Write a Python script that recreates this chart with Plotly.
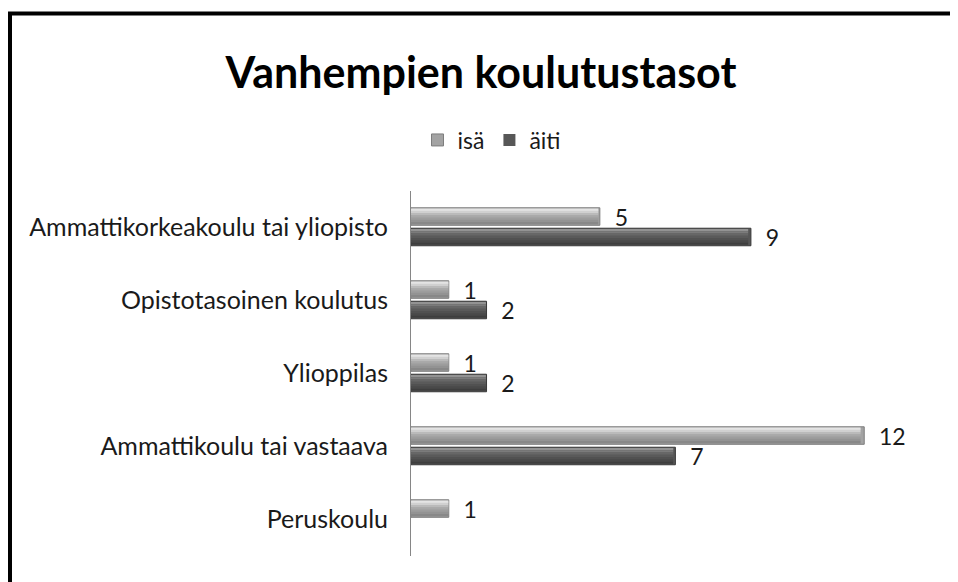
import plotly.graph_objects as go

categories = ["Peruskoulu", "Ammattikoulu tai vastaava", "Ylioppilas",
              "Opistotasoinen koulutus", "Ammattikorkeakoulu tai yliopisto"]
isa = [1, 12, 1, 1, 5]
aiti = [0, 7, 2, 2, 9]
series_names = ["isä", "äiti"]

OFF = 8                      # default page body margin
W, H = 958 - OFF, 582 - OFF  # figure size
# plot area in page pixels
PX0, PX1, PY0, PY1 = 411, 902, 191, 556
ML, MR = PX0 - OFF, (W + OFF) - PX1
MT, MB = PY0 - OFF, (H + OFF) - PY1
PW, PH = PX1 - PX0, PY1 - PY0


def px_x(x):
    return (x - PX0) / PW


def px_y(y):
    return (PY1 - y) / PH


FONT = "Lato"
TXT = "#1a1a1a"

styles = {
    "isä": dict(base="#a3a3a3", edge="#7d7d7d",
                bands=["#e4e4e4", "#d0d0d0", "#bababa", "#a8a8a8",
                       "#9d9d9d", "#939393", "#888888"],
                offset=0.03, values=isa, rank=1),
    "äiti": dict(base="#575757", edge="#383838",
                 bands=["#939393", "#7b7b7b", "#676767", "#5a5a5a",
                        "#515151", "#494949", "#3e3e3e"],
                 offset=-0.25, values=aiti, rank=2),
}
BW = 0.24

fig = go.Figure()
for name in series_names:
    s = styles[name]
    vals = s["values"]
    fig.add_trace(go.Bar(
        y=categories, x=vals, orientation="h", name=name,
        width=BW, offset=s["offset"],
        marker=dict(color=s["base"],
                    line=dict(color=s["edge"],
                              width=[1 if v else 0 for v in vals])),
        text=[("  " + str(v)) if v else "" for v in vals],
        textposition="outside", cliponaxis=False, constraintext="none",
        textfont=dict(family=FONT, size=23, color=TXT),
        legendrank=s["rank"],
    ))
    n = len(s["bands"])
    inner = BW * 0.9
    bh = inner / n
    start = s["offset"] + BW * 0.05
    for i, col in enumerate(s["bands"]):
        # bands listed top -> bottom; y increases upward
        off = start + inner - (i + 1) * bh
        fig.add_trace(go.Bar(
            y=categories, x=[v * 0.992 for v in vals], orientation="h",
            showlegend=False, hoverinfo="skip",
            width=bh * 1.05, offset=off,
            marker=dict(color=col, line=dict(width=0)),
        ))

border_path = (f"M {px_x(10)} {px_y(H + OFF + 5)} L {px_x(10)} {px_y(13.5)} "
               f"L {px_x(W + OFF + 5)} {px_y(13.5)}")

fig.update_layout(
    width=W, height=H,
    margin=dict(l=ML, r=MR, t=MT, b=MB),
    paper_bgcolor="white", plot_bgcolor="white",
    barmode="overlay",
    title=dict(text="<b>Vanhempien koulutustasot</b>",
               x=(481 - OFF) / W, xref="container", xanchor="center",
               y=1 - (73 - OFF) / H, yref="container", yanchor="middle",
               font=dict(family=FONT, size=43, color="#000000")),
    legend=dict(orientation="h", x=px_x(492), xanchor="center",
                y=px_y(140), yanchor="middle", xref="paper",
                font=dict(family=FONT, size=23, color=TXT),
                itemwidth=30, traceorder="normal"),
    xaxis=dict(range=[0, 13], visible=False, showgrid=False, zeroline=False),
    yaxis=dict(showline=True, linecolor="#868686", linewidth=1,
               showgrid=False, ticks="", ticklabelstandoff=17,
               tickfont=dict(family=FONT, size=25, color=TXT)),
    shapes=[dict(type="path", path=border_path, xref="paper", yref="paper",
                 line=dict(color="black", width=4))],
    showlegend=True,
)

fig.write_html("out.html")
